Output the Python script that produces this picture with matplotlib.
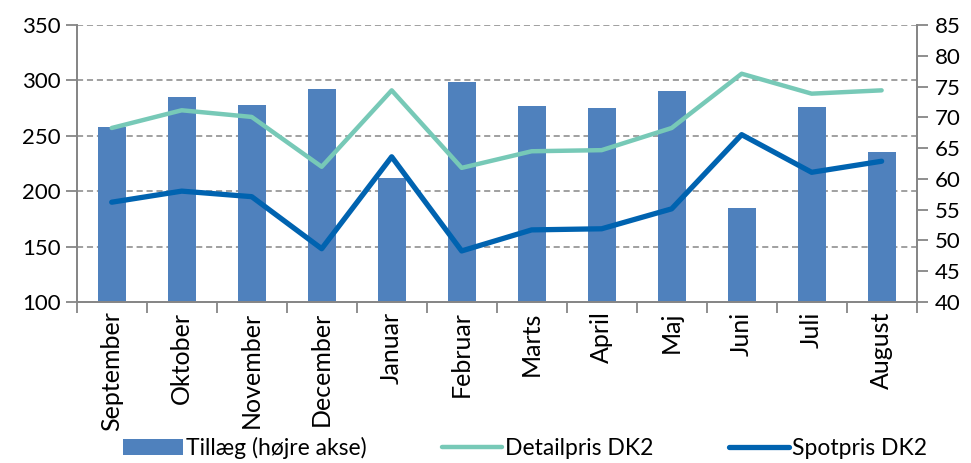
import matplotlib.pyplot as plt
import numpy as np

plt.rcParams['font.family'] = ['Lato', 'DejaVu Sans']

maaneder = ["September", "Oktober", "November", "December", "Januar", "Februar",
            "Marts", "April", "Maj", "Juni", "Juli", "August"]

tillaeg = [68.4, 73.3, 72.0, 74.6, 60.2, 75.8, 71.8, 71.5, 74.3, 55.2, 71.7, 64.4]
detailpris = [257, 273, 267, 222, 291, 221, 236, 237, 257, 306, 288, 291]
spotpris = [190, 200, 195, 148, 231, 146, 165, 166, 184, 251, 217, 227]

x = np.arange(len(maaneder))
graa = "#868686"

fig = plt.figure(figsize=(9.71, 4.63), dpi=100)
ax = fig.add_axes([0.079, 0.348, 0.865, 0.598])
axb = ax.twinx()

# søjler på højre akse
axb.bar(x, tillaeg, width=0.4, color="#4F81BD", label="Tillæg (højre akse)", zorder=2)
axb.set_ylim(40, 85)
axb.set_yticks(np.arange(40, 86, 5))

# linjer på venstre akse, tegnet oven på søjlerne
ax.plot(x, detailpris, color="#77C9B7", lw=3.2, label="Detailpris DK2", solid_capstyle="round")
ax.plot(x, spotpris, color="#0063B0", lw=3.8, label="Spotpris DK2", solid_capstyle="round")
ax.set_ylim(100, 350)
ax.set_yticks(np.arange(100, 351, 50))
ax.set_zorder(axb.get_zorder() + 1)
ax.patch.set_visible(False)

# stiplede gitterlinjer bag søjlerne, ud fra venstre akses ticks
lo, hi = ax.get_ylim()
blo, bhi = axb.get_ylim()
for v in ax.get_yticks()[1:]:
    axb.axhline(blo + (v - lo) / (hi - lo) * (bhi - blo), color=graa, ls=(0, (4, 2.5)), lw=1.1, zorder=1)

ax.set_xlim(-0.5, len(maaneder) - 0.5)
ax.set_xticks(x)
ax.set_xticklabels(maaneder, rotation=90)
ax.set_xticks(np.arange(-0.5, len(maaneder)), minor=True)
ax.tick_params(axis="x", which="major", length=0, pad=7, labelsize=18)
ax.tick_params(axis="x", which="minor", length=8, color=graa, width=1.3)
ax.tick_params(axis="y", length=8, color=graa, width=1.3, labelsize=16)
axb.tick_params(axis="y", length=8, color=graa, width=1.3, labelsize=16, pad=5)

for a in (ax, axb):
    a.spines["top"].set_visible(False)
    for s in ("left", "right", "bottom"):
        a.spines[s].set_color(graa)
        a.spines[s].set_linewidth(1.3)

h1, l1 = axb.get_legend_handles_labels()
h2, l2 = ax.get_legend_handles_labels()
fig.legend(h1 + h2, l1 + l2, loc="lower center", bbox_to_anchor=(0.541, -0.035), ncol=3,
           frameon=False, fontsize=16.5, columnspacing=3.3, handlelength=2.6, handletextpad=0.15)

fig.savefig("out.png", dpi=100)
